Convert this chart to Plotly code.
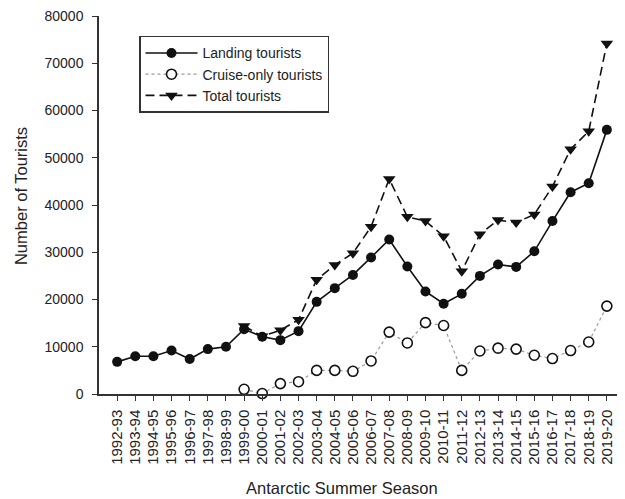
import plotly.graph_objects as go

seasons = ["1992-93", "1993-94", "1994-95", "1995-96", "1996-97", "1997-98", "1998-99",
           "1999-00", "2000-01", "2001-02", "2002-03", "2003-04", "2004-05", "2005-06",
           "2006-07", "2007-08", "2008-09", "2009-10", "2010-11", "2011-12", "2012-13",
           "2013-14", "2014-15", "2015-16", "2016-17", "2017-18", "2018-19", "2019-20"]

landing = [6800, 8000, 8000, 9200, 7400, 9500, 10000, 13700, 12100, 11400, 13300,
           19500, 22400, 25200, 28900, 32700, 27000, 21700, 19100, 21200, 25000,
           27400, 26900, 30200, 36600, 42700, 44600, 55900]

cruise = [None] * 7 + [1000, 100, 2200, 2600, 5000, 5000, 4800, 7000, 13100, 10800,
                       15100, 14500, 5000, 9100, 9700, 9500, 8200, 7500, 9200, 11000, 18600]

total = [None] * 7 + [14400, 12200, 13500, 15700, 24200, 27300, 29800, 35400, 45500,
                      37500, 36600, 33400, 26000, 33800, 36800, 36300, 38000, 43900,
                      51800, 55600, 74200]

FONT = "Liberation Sans, Arial, sans-serif"
OFF = 8                      # page body margin in the browser
W, H = 625 - OFF, 499 - OFF  # figure size
# plot area in page pixels
PX0, PX1, PY0, PY1 = 99, 625, 14, 394
ML, MR = PX0 - OFF, 0
MT, MB = PY0 - OFF, H - (PY1 - OFF)


def px(xp):
    return (xp - PX0) / (PX1 - PX0)


def py(yp):
    return (PY1 - yp) / (PY1 - PY0)


fig = go.Figure()
fig.add_trace(go.Scatter(
    x=seasons, y=landing, name="Landing tourists", mode="lines+markers",
    line=dict(color="#111111", width=1.6),
    marker=dict(symbol="circle", size=10, color="#111111"),
    cliponaxis=False,
))
fig.add_trace(go.Scatter(
    x=seasons, y=cruise, name="Cruise-only tourists", mode="lines+markers",
    line=dict(color="#9a9a9a", width=1.2, dash="dot"),
    marker=dict(symbol="circle", size=10, color="white",
                line=dict(color="#111111", width=1.6)),
    cliponaxis=False,
))
fig.add_trace(go.Scatter(
    x=seasons, y=total, name="Total tourists", mode="lines+markers",
    line=dict(color="#111111", width=1.6, dash="9px,5px"),
    marker=dict(symbol="triangle-down", size=11, color="#111111"),
    cliponaxis=False,
))

fig.update_layout(
    width=W, height=H,
    margin=dict(l=ML, r=MR, t=MT, b=MB, pad=0),
    paper_bgcolor="white", plot_bgcolor="white",
    font=dict(family=FONT, size=14, color="#222222"),
    showlegend=True,
    legend=dict(
        x=px(139), y=py(34),
        xanchor="left", yanchor="top",
        bordercolor="#333333", borderwidth=1.5, bgcolor="white",
        font=dict(family=FONT, size=14, color="#222222"),
        itemwidth=52,
    ),
    xaxis=dict(
        type="category", range=[-1, 28],
        showline=True, linecolor="#333333", linewidth=1.5,
        ticks="outside", ticklen=5, tickwidth=1.2, tickcolor="#333333",
        tickangle=-90, tickfont=dict(family=FONT, size=15, color="#222222"),
        showgrid=False, zeroline=False, ticklabelstandoff=3,
        ticklabeloverflow="allow",
    ),
    yaxis=dict(
        range=[0, 80000], dtick=10000, tickformat="d",
        showline=True, linecolor="#333333", linewidth=1.5,
        ticks="outside", ticklen=5, tickwidth=1.2, tickcolor="#333333",
        tickfont=dict(family=FONT, size=14, color="#222222"),
        showgrid=False, zeroline=False, ticklabelstandoff=6,
        ticklabeloverflow="allow",
    ),
    annotations=[
        dict(text="Antarctic Summer Season", xref="paper", yref="paper",
             x=px(342), y=py(488),
             xanchor="center", yanchor="middle", showarrow=False,
             font=dict(family=FONT, size=16.5, color="#222222")),
        dict(text="Number of Tourists", xref="paper", yref="paper",
             x=px(21), y=py(195),
             xanchor="center", yanchor="middle", showarrow=False, textangle=-90,
             font=dict(family=FONT, size=16.5, color="#222222")),
    ],
)

fig.write_html("out.html")
